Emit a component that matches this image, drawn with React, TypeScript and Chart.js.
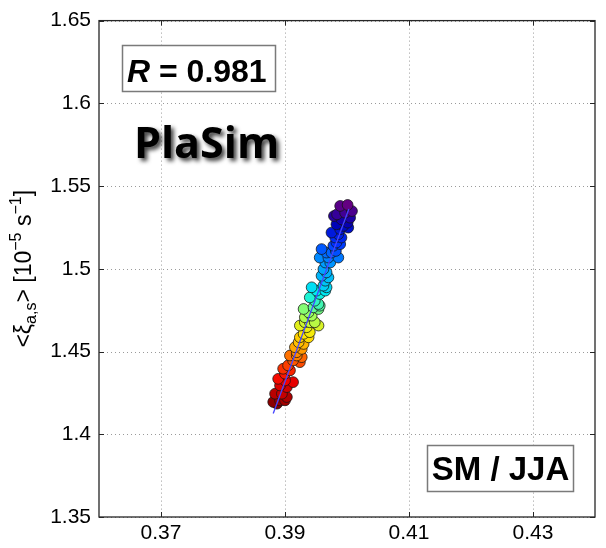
import { useEffect, useRef } from "react";
import { Chart, registerables } from "chart.js";

Chart.register(...registerables);

// Seasonal means: soil moisture index (x) against mean absolute vorticity (y)
const smValues = [
  0.3887, 0.3881, 0.3892, 0.39, 0.3903, 0.3884, 0.3895,
  0.3903, 0.3892, 0.3913, 0.39, 0.3889,
  0.39, 0.3908, 0.3897,
  0.3905, 0.3924, 0.3913, 0.3927, 0.3908, 0.3919,
  0.3919, 0.3927, 0.3916, 0.393, 0.3922,
  0.3924, 0.3938, 0.393, 0.394, 0.3935, 0.3924, 0.3954,
  0.3932, 0.394, 0.3948, 0.3932, 0.3943, 0.3938, 0.393, 0.3954,
  0.3946, 0.3956, 0.3954, 0.3948, 0.394,
  0.3956, 0.3951, 0.3965, 0.3943, 0.3967, 0.3962, 0.3965, 0.397, 0.3959, 0.3967, 0.3962,
  0.3965, 0.3973, 0.3956, 0.397, 0.3986, 0.3967, 0.3975, 0.3959,
  0.3982, 0.3978, 0.3989, 0.3983, 0.3981, 0.3991, 0.3986, 0.3975,
  0.3989, 0.4002, 0.3994, 0.3983, 0.4001, 0.3991, 0.4005, 0.3979, 0.3984, 0.3997, 0.4008, 0.3989, 0.4001,
];
const vorticityValues = [
  1.4185, 1.4195, 1.4205, 1.4205, 1.4225, 1.4245, 1.4245,
  1.4285, 1.4295, 1.4315, 1.4325, 1.4335,
  1.4366, 1.4386, 1.4396,
  1.4416, 1.4436, 1.4446, 1.4466, 1.4476, 1.4476,
  1.4496, 1.4516, 1.4526, 1.4546, 1.4556,
  1.4586, 1.4586, 1.4607, 1.4617, 1.4647, 1.4657, 1.4657,
  1.4677, 1.4677, 1.4677, 1.4707, 1.4717, 1.4737, 1.4757, 1.4757,
  1.4767, 1.4777, 1.4787, 1.4807, 1.4827,
  1.4848, 1.4868, 1.4868, 1.4888, 1.4888, 1.4898, 1.4928, 1.4948, 1.4958, 1.4978, 1.4998,
  1.5038, 1.5038, 1.5068, 1.5068, 1.5068, 1.5098, 1.5098, 1.5119,
  1.5108, 1.5139, 1.5149, 1.5159, 1.5189, 1.5189, 1.5209, 1.5219,
  1.5239, 1.5249, 1.5259, 1.5269, 1.5279, 1.5299, 1.5309, 1.5319, 1.5329, 1.5339, 1.5349, 1.538, 1.5386,
];

// Least-squares line through the cloud
const fitX = [0.3881, 0.4003];
const fitY = [1.4125, 1.5362];

const xTicks = [0.37, 0.39, 0.41, 0.43];
const xTickLabels = ["0.37", "0.39", "0.41", "0.43"];
const yTicks = [1.35, 1.4, 1.45, 1.5, 1.55, 1.6, 1.65];
const yTickLabels = ["1.35", "1.4", "1.45", "1.5", "1.55", "1.6", "1.65"];

const correlationText = "0.981";
const modelName = "PlaSim";
const panelTag = "SM / JJA";

const X_MIN = 0.36;
const X_MAX = 0.44;
const Y_MIN = 1.35;
const Y_MAX = 1.65;

const SANS = "'Liberation Sans', Arial, Helvetica, sans-serif";

// Colour ramp: dark red -> yellow -> cyan -> blue -> purple
const rampStops: [number, number[]][] = [
  [0.0, [128, 0, 0]],
  [0.12, [245, 0, 0]],
  [0.22, [255, 110, 0]],
  [0.33, [255, 232, 0]],
  [0.44, [160, 255, 90]],
  [0.55, [0, 240, 240]],
  [0.68, [0, 150, 255]],
  [0.8, [0, 50, 255]],
  [0.9, [0, 0, 180]],
  [1.0, [100, 0, 130]],
];

function rampColour(t: number): string {
  for (let i = 1; i < rampStops.length; i++) {
    const [t1, c1] = rampStops[i];
    const [t0, c0] = rampStops[i - 1];
    if (t <= t1) {
      const f = (t - t0) / (t1 - t0);
      const c = c0.map((v, k) => Math.round(v + (c1[k] - v) * f));
      return `rgb(${c[0]},${c[1]},${c[2]})`;
    }
  }
  const c = rampStops[rampStops.length - 1][1];
  return `rgb(${c[0]},${c[1]},${c[2]})`;
}

const framePlugin = {
  id: "matlabFrame",
  beforeDatasetsDraw(chart: any) {
    const { ctx, chartArea: a, scales } = chart;
    ctx.save();
    ctx.strokeStyle = "#9a9a9a";
    ctx.lineWidth = 1;
    ctx.setLineDash([1, 3]);
    xTicks.forEach((v) => {
      const px = Math.round(scales.x.getPixelForValue(v)) + 0.5;
      ctx.beginPath();
      ctx.moveTo(px, a.top);
      ctx.lineTo(px, a.bottom);
      ctx.stroke();
    });
    yTicks.forEach((v) => {
      const py = Math.round(scales.y.getPixelForValue(v)) + 0.5;
      ctx.beginPath();
      ctx.moveTo(a.left, py);
      ctx.lineTo(a.right, py);
      ctx.stroke();
    });
    ctx.restore();
  },
  afterDatasetsDraw(chart: any) {
    const { ctx, chartArea: a, scales } = chart;
    ctx.save();
    ctx.setLineDash([]);
    ctx.strokeStyle = "#262626";
    ctx.lineWidth = 1.3;
    ctx.strokeRect(a.left, a.top, a.right - a.left, a.bottom - a.top);
    const tl = 5;
    ctx.lineWidth = 1;
    xTicks.forEach((v) => {
      const px = Math.round(scales.x.getPixelForValue(v)) + 0.5;
      ctx.beginPath();
      ctx.moveTo(px, a.bottom);
      ctx.lineTo(px, a.bottom - tl);
      ctx.moveTo(px, a.top);
      ctx.lineTo(px, a.top + tl);
      ctx.stroke();
    });
    yTicks.forEach((v) => {
      const py = Math.round(scales.y.getPixelForValue(v)) + 0.5;
      ctx.beginPath();
      ctx.moveTo(a.left, py);
      ctx.lineTo(a.left + tl, py);
      ctx.moveTo(a.right, py);
      ctx.lineTo(a.right - tl, py);
      ctx.stroke();
    });
    ctx.restore();
  },
  afterDraw(chart: any) {
    const { ctx } = chart;
    ctx.save();

    // y-axis title with sub- and superscripts
    const main = `23px ${SANS}`;
    const small = `16px ${SANS}`;
    const parts: { t: string; f: string; dy: number }[] = [
      { t: "<ξ", f: main, dy: 0 },
      { t: "a,s", f: small, dy: 5 },
      { t: "> [10", f: main, dy: 0 },
      { t: "−5", f: small, dy: -10 },
      { t: " s", f: main, dy: 0 },
      { t: "−1", f: small, dy: -10 },
      { t: "]", f: main, dy: 0 },
    ];
    let total = 0;
    parts.forEach((p) => {
      ctx.font = p.f;
      total += ctx.measureText(p.t).width;
    });
    const midY = (chart.chartArea.top + chart.chartArea.bottom) / 2;
    ctx.translate(31, midY);
    ctx.rotate(-Math.PI / 2);
    ctx.fillStyle = "#000";
    ctx.textBaseline = "alphabetic";
    ctx.textAlign = "left";
    let cx = -total / 2;
    parts.forEach((p) => {
      ctx.font = p.f;
      ctx.fillText(p.t, cx, p.dy);
      cx += ctx.measureText(p.t).width;
    });
    ctx.setTransform(1, 0, 0, 1, 0, 0);

    // correlation box
    ctx.fillStyle = "#fff";
    ctx.fillRect(122, 45, 154, 47);
    ctx.strokeStyle = "#7a7a7a";
    ctx.lineWidth = 1.5;
    ctx.strokeRect(122.5, 45.5, 153, 46);
    ctx.fillStyle = "#000";
    ctx.textBaseline = "alphabetic";
    ctx.textAlign = "left";
    ctx.font = `italic bold 32px ${SANS}`;
    ctx.fillText("R", 127, 82);
    const rw = ctx.measureText("R").width;
    ctx.font = `bold 32px ${SANS}`;
    ctx.fillText(" = " + correlationText, 127 + rw, 82);

    // model name with drop shadow
    ctx.save();
    ctx.font = `bold 43px 'Open Sans', 'Noto Sans', sans-serif`;
    ctx.shadowColor = "rgba(0,0,0,0.75)";
    ctx.shadowOffsetX = 3;
    ctx.shadowOffsetY = 3;
    ctx.shadowBlur = 4;
    ctx.fillStyle = "#000";
    ctx.fillText(modelName, 134, 158);
    ctx.restore();

    // region / season tag
    ctx.fillStyle = "#fff";
    ctx.fillRect(427, 445, 147, 47);
    ctx.strokeStyle = "#7a7a7a";
    ctx.lineWidth = 1.5;
    ctx.strokeRect(427.5, 445.5, 146, 46);
    ctx.fillStyle = "#000";
    ctx.font = `bold 33px ${SANS}`;
    ctx.textAlign = "center";
    ctx.fillText(panelTag, 500.5, 480);

    ctx.restore();
  },
};

export default function App() {
  const canvasRef = useRef<HTMLCanvasElement | null>(null);

  useEffect(() => {
    const canvas = canvasRef.current;
    if (!canvas) return;
    const n = smValues.length;
    const points = smValues.map((x, i) => ({ x, y: vorticityValues[i] }));
    const colours = smValues.map((_, i) => rampColour(i / (n - 1)));
    const fitPoints = fitX.map((x, i) => ({ x, y: fitY[i] }));

    const chart = new Chart(canvas, {
      type: "scatter",
      data: {
        datasets: [
          {
            type: "line",
            data: fitPoints,
            borderColor: "rgb(70,70,255)",
            borderWidth: 1.3,
            pointRadius: 0,
            fill: false,
            order: 0,
          } as any,
          {
            data: points,
            pointRadius: 5.4,
            pointBackgroundColor: colours,
            pointBorderColor: "rgba(20,20,20,0.75)",
            pointBorderWidth: 1,
            order: 1,
          },
        ],
      },
      options: {
        responsive: false,
        animation: false,
        devicePixelRatio: 1,
        layout: { padding: { top: 19, right: 11, left: 0, bottom: 0 } },
        plugins: {
          legend: { display: false },
          tooltip: { enabled: false },
        },
        scales: {
          x: {
            type: "linear",
            min: X_MIN,
            max: X_MAX,
            afterBuildTicks: (s: any) => {
              s.ticks = xTicks.map((v) => ({ value: v }));
            },
            afterFit: (s: any) => {
              s.height = 31;
            },
            ticks: {
              autoSkip: false,
              maxRotation: 0,
              padding: 4,
              color: "#000",
              font: { family: SANS, size: 21 },
              callback: (v: any) => xTickLabels[xTicks.indexOf(Number(v))] ?? "",
            },
            grid: { display: false, drawTicks: false },
            border: { display: false },
          },
          y: {
            type: "linear",
            min: Y_MIN,
            max: Y_MAX,
            afterBuildTicks: (s: any) => {
              s.ticks = yTicks.map((v) => ({ value: v }));
            },
            afterFit: (s: any) => {
              s.width = 99;
            },
            ticks: {
              autoSkip: false,
              padding: 8,
              color: "#000",
              font: { family: SANS, size: 21 },
              callback: (v: any) => yTickLabels[yTicks.indexOf(Number(v))] ?? "",
            },
            grid: { display: false, drawTicks: false },
            border: { display: false },
          },
        },
      },
      plugins: [framePlugin],
    });

    return () => chart.destroy();
  }, []);

  return (
    <div style={{ position: "absolute", left: 0, top: 0, width: 606, height: 548, background: "#fff" }}>
      <canvas ref={canvasRef} width={606} height={548} />
    </div>
  );
}
